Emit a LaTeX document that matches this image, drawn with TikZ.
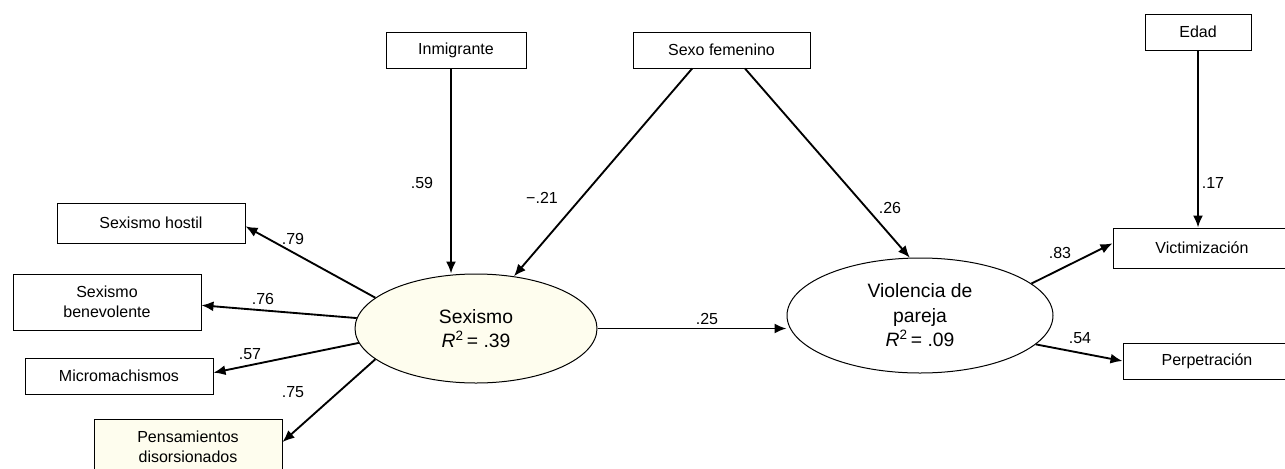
\documentclass[tikz,border=0pt]{standalone}
\usepackage{fontspec}
\setmainfont{Liberation Sans}
\usetikzlibrary{arrows.meta, positioning, shapes.geometric}
\definecolor{cream}{HTML}{FEFDEE}
\tikzset{
  every picture/.style={line width=0.75pt},
  box/.style={draw, fill=#1, align=center, inner sep=2pt, minimum width=141pt, minimum height=27pt, font=\fontsize{12}{15}\selectfont},
  box/.default=white,
  latent/.style={ellipse, draw, fill=#1, align=center, inner sep=0pt, font=\fontsize{14.5}{18.4}\selectfont},
  latent/.default=white,
  arrow/.style={-{Latex[length=9pt, width=7.5pt]}, line width=1.4pt},
  coef/.style={font=\fontsize{12}{14}\selectfont, inner sep=0pt},
}

\begin{document}
\begin{tikzpicture}[x=0.75pt, y=-0.75pt]
  \useasboundingbox (0,0) rectangle (1285,468);
  % covariates on top
  \node[box, minimum width=105pt] (inm) at (456,50) {Inmigrante};
  \node[box, minimum width=132.75pt] (fem) at (721.5,50) {Sexo femenino};
  \node[box, minimum width=79.5pt] (edad) at (1198,32) {Edad};
  % latent variables
  \node[latent=cream, minimum width=181.5pt, minimum height=81.75pt] (sex) at (476,328.5) {Sexismo\\\textit{R}\textsuperscript{2}\,= .39};
  \node[latent, minimum width=199.5pt, minimum height=86.25pt] (vio) at (920,315.5) {Violencia de\\pareja\\\textit{R}\textsuperscript{2}\,= .09};
  % indicators of sexismo
  \node[box, minimum height=30pt] (hostil) at (151,223) {Sexismo hostil};
  \node[box, minimum height=42pt] (bene) at (107,302) {Sexismo\\benevolente};
  \node[box] (micro) at (119,376) {Micromachismos};
  \node[box=cream, minimum height=42pt] (pens) at (188,447) {Pensamientos\\disorsionados};
  % indicators of violencia
  \node[box, minimum width=133.5pt, minimum height=30pt] (vic) at (1202,248) {Victimización};
  \node[box, minimum width=126pt] (perp) at (1207,361) {Perpetración};
  % paths
  \draw[arrow] ([xshift=-3.75pt]inm.south) -- ([xshift=-3.75pt]inm.south |- sex.north);
  \draw[arrow] ([xshift=-22pt]fem.south) -- (sex.54);
  \draw[arrow] ([xshift=17.6pt]fem.south) -- (vio.100);
  \draw[arrow] (edad.south) -- (edad.south |- vic.north);
  \draw[arrow] (sex.east) -- (sex.east -| vio.west);
  \draw[arrow] (vio.16) -- (vic.177);
  \draw[arrow] (vio.-14) -- (perp.west);
  \draw[arrow] (sex.163) -- (hostil.-2);
  \draw[arrow] (sex.175) -- (bene.-2);
  \draw[arrow] (sex.187) -- (micro.2);
  \draw[arrow] (sex.197) -- (pens.3);
  % coefficients
  \node[coef] (c59) at (422,183) {.59};
  \node[coef] (c21) at (542,198) {−.21};
  \node[coef] (c26) at (890,208) {.26};
  \node[coef] (c17) at (1213,183) {.17};
  \node[coef] (c25) at (707,319) {.25};
  \node[coef] (c83) at (1060,253) {.83};
  \node[coef] (c54) at (1080,338) {.54};
  \node[coef] (c79) at (293,239) {.79};
  \node[coef] (c76) at (263,299) {.76};
  \node[coef] (c57) at (250,354) {.57};
  \node[coef] (c75) at (293,392) {.75};
\end{tikzpicture}
\end{document}
